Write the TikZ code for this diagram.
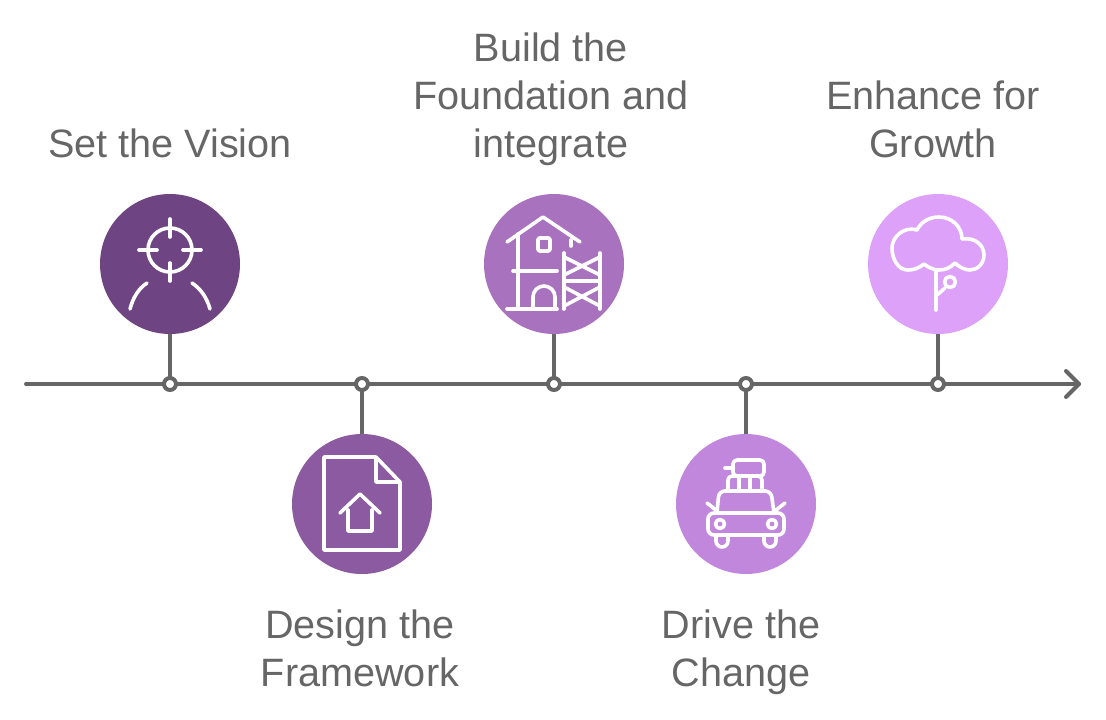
\documentclass[tikz,border=0pt]{standalone}
\usepackage{fontspec}
\setmainfont{Liberation Sans}
\definecolor{grayline}{HTML}{666666}
\definecolor{cA}{HTML}{6F4482}
\definecolor{cB}{HTML}{8B5AA0}
\definecolor{cC}{HTML}{A972BF}
\definecolor{cD}{HTML}{C187DD}
\definecolor{cE}{HTML}{DDA1FA}
\tikzset{
  disc/.style={circle,minimum size=140pt,inner sep=0pt,outer sep=0pt,draw=none},
  dot/.style={circle,fill=white,draw=grayline,line width=4pt,minimum size=12pt,inner sep=0pt,outer sep=0pt},
  axisline/.style={draw=grayline,line width=4pt,line cap=round,line join=round},
  stem/.style={draw=grayline,line width=4pt},
  icon/.style={draw=white,line width=3.6pt,line cap=round,line join=round},
  lab/.style={anchor=base,align=center,text=grayline,font=\fontsize{39.6}{48}\selectfont,inner sep=0pt}
}
\begin{document}
\begin{tikzpicture}[x=1pt,y=-1pt]
\useasboundingbox (0,0) rectangle (1106,720);
\coordinate (axisstart) at (26,384);
\coordinate (tip) at (1079,384);
\coordinate (tipa) at (1066,371);
\coordinate (tipb) at (1066,397);
\draw[axisline] (axisstart) -- (tip);
\draw[axisline] (tipa) -- (tip) -- (tipb);
\node[disc,fill=cA] (n1) at (170,264) {};
\node[disc,fill=cB] (n2) at (362,504) {};
\node[disc,fill=cC] (n3) at (554,264) {};
\node[disc,fill=cD] (n4) at (746,504) {};
\node[disc,fill=cE] (n5) at (938,264) {};
\node[dot] (d1) at (170,384) {};
\node[dot] (d2) at (362,384) {};
\node[dot] (d3) at (554,384) {};
\node[dot] (d4) at (746,384) {};
\node[dot] (d5) at (938,384) {};
\draw[stem] (n1) -- (d1);
\draw[stem] (d2) -- (n2);
\draw[stem] (n3) -- (d3);
\draw[stem] (d4) -- (n4);
\draw[stem] (n5) -- (d5);
\node[lab] (t1) at (170,157) {Set the Vision};
\node[lab] (t2) at (360,686) {Design the\\Framework};
\node[lab] (t3) at (551,157) {Build the\\Foundation and\\integrate};
\node[lab] (t4) at (741,686) {Drive the\\Change};
\node[lab] (t5) at (933,157) {Enhance for\\Growth};
% icon 1
\draw[icon] (170,250) circle (22);
\draw[icon] (170,219)--(170,237) (170,263)--(170,281) (139,250)--(157,250) (183,250)--(201,250);
\draw[icon] (147,283) .. controls (138,289) and (133,298) .. (130,309);
\draw[icon] (192,283) .. controls (201,289) and (207,298) .. (210,309);
% icon 2
\draw[icon] (376,457) -- (324,457) -- (324,550) -- (400,550) -- (400,482) -- (376,457) -- (376,482) -- (400,482);
\draw[icon] (340,513) -- (360,494) -- (380,513);
\draw[icon] (348,510) -- (348,531) -- (372,531) -- (372,510);
% icon 3
\draw[icon] (507,242) -- (543,217) -- (580,242);
\draw[icon] (518,234) -- (518,309);
\draw[icon] (571,240) -- (571,246);
\draw[icon,rounded corners=1.5pt] (538,238) rectangle (550,251);
\draw[icon] (513,271) -- (557,271);
\draw[icon] (507,309) -- (557,309);
\draw[icon] (533,309) -- (533,297) arc[start angle=180,end angle=0,x radius=11,y radius=-11] -- (555,309);
\draw[icon] (564,253) -- (564,309);
\draw[icon] (600,253) -- (600,309);
\draw[icon] (564,281) -- (600,281);
\draw[icon] (564,257) -- (600,275) (600,257) -- (564,275);
\draw[icon] (564,287) -- (600,306) (600,287) -- (564,306);
% icon 4
\draw[icon,rounded corners=4pt] (733,460) rectangle (764,476);
\draw[icon] (725,468) -- (733,468);
\draw[icon,rounded corners=4pt] (728,491) -- (728,476) -- (762,476) -- (762,491);
\draw[icon] (739,476) -- (739,491) (750,476) -- (750,491);
\draw[icon,rounded corners=6pt] (717,513) -- (719,491) -- (771,491) -- (774,513);
\draw[icon,rounded corners=6pt] (708,513) rectangle (784,535);
\draw[icon] (707,503) -- (716,510) (785,503) -- (776,510);
\draw[icon] (720,524) circle (4.5);
\draw[icon] (772,524) circle (4.5);
\draw[icon] (716,536) -- (716,541) arc[start angle=180,end angle=0,x radius=6,y radius=6] -- (728,536);
\draw[icon] (764,536) -- (764,541) arc[start angle=180,end angle=0,x radius=6,y radius=6] -- (776,536);
% icon 5
\draw[icon] (924,264) .. controls (919,268) and (914,270) .. (908,270)
  .. controls (898,270) and (892,259) .. (892,248)
  .. controls (892,236) and (905,226) .. (917,230)
  .. controls (921,222) and (929,217) .. (939,217)
  .. controls (952,217) and (962,227) .. (962,239)
  .. controls (975,237) and (984,245) .. (984,255)
  .. controls (984,264) and (977,270) .. (970,270)
  .. controls (965,270) and (959,267) .. (955,263)
  .. controls (950,268) and (945,270) .. (939,270)
  .. controls (933,270) and (928,267) .. (924,264) -- cycle;
\draw[icon] (936,271) -- (936,310);
\draw[icon] (937,295) -- (945,288);
\draw[icon] (950,282) circle (5.5);
\end{tikzpicture}
\end{document}
